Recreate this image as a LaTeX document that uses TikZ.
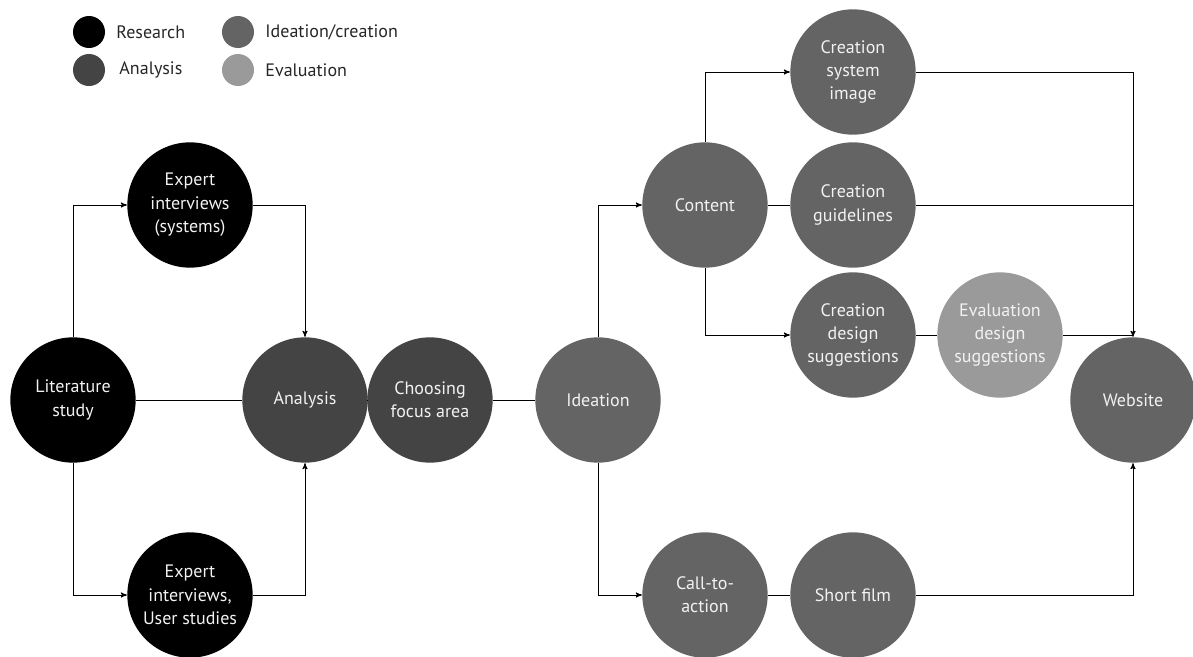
\documentclass[tikz,border=0pt]{standalone}
\usepackage{fontspec}
\setmainfont{PT Sans}
\usetikzlibrary{positioning,arrows}
\definecolor{anagrey}{HTML}{444444}
\definecolor{ideagrey}{HTML}{646464}
\definecolor{evalgrey}{HTML}{9A9A9A}
\tikzset{
  >=stealth',
  phase/.style={circle, minimum size=94pt, inner sep=0pt, align=center,
                text=white!95!black, font=\fontsize{13.5}{17.5}\selectfont},
  research/.style={phase, fill=black},
  analysis/.style={phase, fill=anagrey},
  ideation/.style={phase, fill=ideagrey},
  evaluation/.style={phase, fill=evalgrey},
  dot/.style={circle, minimum size=24pt, inner sep=0pt},
  legend/.style={right, inner sep=0pt, font=\fontsize{13.5}{15}\selectfont, text=black!85},
  link/.style={line width=0.7pt},
}

\begin{document}
\begin{tikzpicture}[x=0.75pt, y=-0.75pt, link]
    \useasboundingbox (0,0) rectangle (1193,657);
    % legend
    \node[dot, fill=black]     (k1) at (89,32)  {};
    \node[dot, fill=anagrey]   (k2) at (89,70)  {};
    \node[dot, fill=ideagrey]  (k3) at (238,32) {};
    \node[dot, fill=evalgrey]  (k4) at (238,70) {};
    \node[legend] (t1) at (116,32) {Research};
    \node[legend] (t2) at (119,70) {Analysis};
    \node[legend] (t3) at (265,32) {Ideation/creation};
    \node[legend] (t4) at (265,70) {Evaluation};

    % research and analysis
    \node[research]   (lit)   at (73,400)  {Literature\\study};
    \node[research]   (expsy) at (190,205) {Expert\\interviews\\(systems)};
    \node[research]   (expus) at (190,595) {Expert\\interviews,\\User studies};
    \node[analysis]   (ana)   at (305,400) {Analysis};
    \node[analysis]   (focus) at (430,400) {Choosing\\focus area};

    % ideation / creation
    \node[ideation]   (idea)  at (598,400) {Ideation};
    \node[ideation]   (cont)  at (705,205) {Content};
    \node[ideation]   (csi)   at (853,72)  {Creation\\system\\image};
    \node[ideation]   (cgl)   at (853,205) {Creation\\guidelines};
    \node[ideation]   (cds)   at (853,335) {Creation\\design\\suggestions};
    \node[evaluation] (eds)   at (1000,335){Evaluation\\design\\suggestions};
    \node[ideation]   (cta)   at (705,595) {Call-to-\\action};
    \node[ideation]   (film)  at (853,595) {Short film};
    \node[ideation]   (web)   at (1133,400){Website};

    \draw[->] (lit) |- (expsy);
    \draw[->] (lit) |- (expus);
    \draw[->] (expsy) -| (ana);
    \draw[->] (expus) -| (ana);
    \draw (lit) -- (ana);
    \draw (ana) -- (focus);
    \draw (focus) -- (idea);
    \draw[->] (idea) |- (cont);
    \draw[->] (idea) |- (cta);
    \draw[->] (cont) |- (csi);
    \draw (cont) -- (cgl);
    \draw[->] (cont) |- (cds);
    \draw (cds) -- (eds);
    \draw (cta) -- (film);
    \draw[->] (csi) -| (web);
    \draw (cgl) -- (cgl -| web);
    \draw (eds) -- (eds -| web);
    \draw[->] (film) -| (web);
  \end{tikzpicture}
\end{document}
